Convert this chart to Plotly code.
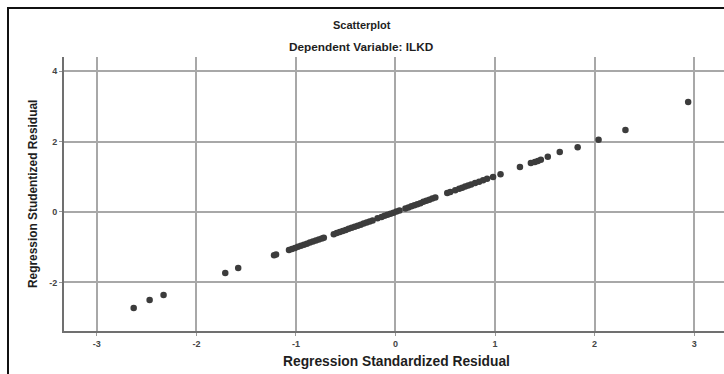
import plotly.graph_objects as go

# Regression Standardized Residual (x) and Regression Studentized Residual (y)
std_resid = [-2.63, -2.47, -2.33, -1.71, -1.58, -1.22, -1.20,
             -1.07, -1.04, -1.01, -0.98, -0.95, -0.92, -0.89, -0.86, -0.83, -0.80, -0.77, -0.74, -0.72,
             -0.62, -0.59, -0.56, -0.53, -0.50, -0.47, -0.44, -0.41, -0.38, -0.35, -0.32, -0.29, -0.26, -0.23,
             -0.18, -0.14, -0.11, -0.08, -0.05, -0.02, 0.01, 0.04,
             0.10, 0.13, 0.16, 0.19, 0.22, 0.25, 0.28, 0.31, 0.34, 0.37, 0.40,
             0.52, 0.55, 0.60, 0.64, 0.67, 0.70, 0.73, 0.76, 0.80, 0.84, 0.88, 0.92,
             0.98, 1.055, 1.25, 1.36, 1.40, 1.43, 1.46, 1.53, 1.65, 1.83, 2.04, 2.31, 2.94]
stud_resid = [-2.73, -2.50, -2.36, -1.73, -1.59, -1.23, -1.21,
              -1.08, -1.05, -1.02, -0.99, -0.96, -0.93, -0.90, -0.87, -0.84, -0.81, -0.78, -0.75, -0.73,
              -0.63, -0.60, -0.57, -0.54, -0.51, -0.48, -0.45, -0.42, -0.39, -0.36, -0.33, -0.30, -0.27, -0.24,
              -0.18, -0.14, -0.11, -0.08, -0.05, -0.02, 0.01, 0.04,
              0.10, 0.13, 0.16, 0.19, 0.22, 0.25, 0.29, 0.32, 0.35, 0.38, 0.41,
              0.54, 0.57, 0.62, 0.66, 0.69, 0.72, 0.75, 0.78, 0.82, 0.86, 0.90, 0.94,
              0.99, 1.07, 1.28, 1.39, 1.42, 1.45, 1.48, 1.57, 1.70, 1.84, 2.05, 2.33, 3.12]

x_ticks = [-3, -2, -1, 0, 1, 2, 3]
y_ticks = [-2, 0, 2, 4]

title_text = "Scatterplot"
subtitle_text = "Dependent Variable: ILKD"
x_title = "Regression Standardized Residual"
y_title = "Regression Studentized Residual"

L, R, T, B = 64, 0, 57, 43
W, H = 724, 374
pw, ph = W - L - R, H - T - B

def px(xp):
    return (xp - L) / pw

def py(yp):
    return (H - B - yp) / ph

fig = go.Figure(go.Scatter(
    x=std_resid, y=stud_resid, mode="markers",
    marker=dict(size=6.5, color="#3c3c3c", line=dict(width=0)),
    hoverinfo="skip"))

font = "Liberation Sans, Arial, sans-serif"
axis_common = dict(showgrid=True, gridcolor="#a8a8a8", gridwidth=1.6,
                   zeroline=False, showline=True, linecolor="#707070", linewidth=2,
                   ticks="outside", ticklen=3, tickcolor="#999999", tickwidth=1,
                   tickfont=dict(family=font, size=9, color="#444444", weight="bold"))

fig.update_xaxes(range=[-3.33, 3.30], tickvals=x_ticks, ticktext=[str(v) for v in x_ticks],
                 **axis_common)
fig.update_yaxes(range=[-3.38, 4.40], tickvals=y_ticks, ticktext=[str(v) for v in y_ticks],
                 **axis_common)

anns = [
    dict(text=title_text, x=px(362), y=py(25), font=dict(size=11)),
    dict(text=subtitle_text, x=px(361), y=py(47), font=dict(size=11.8)),
    dict(text=x_title, x=px(396), y=py(361), font=dict(size=13.8)),
    dict(text=y_title, x=px(33), y=py(194), font=dict(size=11.9), textangle=-90),
]
annotations = []
for a in anns:
    f = dict(family=font, color="#1e1e1e", weight="bold")
    f.update(a.pop("font"))
    annotations.append(dict(xref="paper", yref="paper", showarrow=False,
                            xanchor="center", yanchor="middle", font=f, **a))

fig.update_layout(
    width=W, height=H,
    margin=dict(l=L, r=R, t=T, b=B, pad=0),
    paper_bgcolor="white", plot_bgcolor="white",
    showlegend=False,
    annotations=annotations,
    shapes=[dict(type="rect", xref="paper", yref="paper",
                 x0=px(8), x1=px(740), y0=py(390), y1=py(8),
                 line=dict(color="#111111", width=2), layer="above")],
)

fig.write_html("out.html", config={"displayModeBar": False},
               post_script="document.body.style.margin='0';document.body.style.padding='0';")
